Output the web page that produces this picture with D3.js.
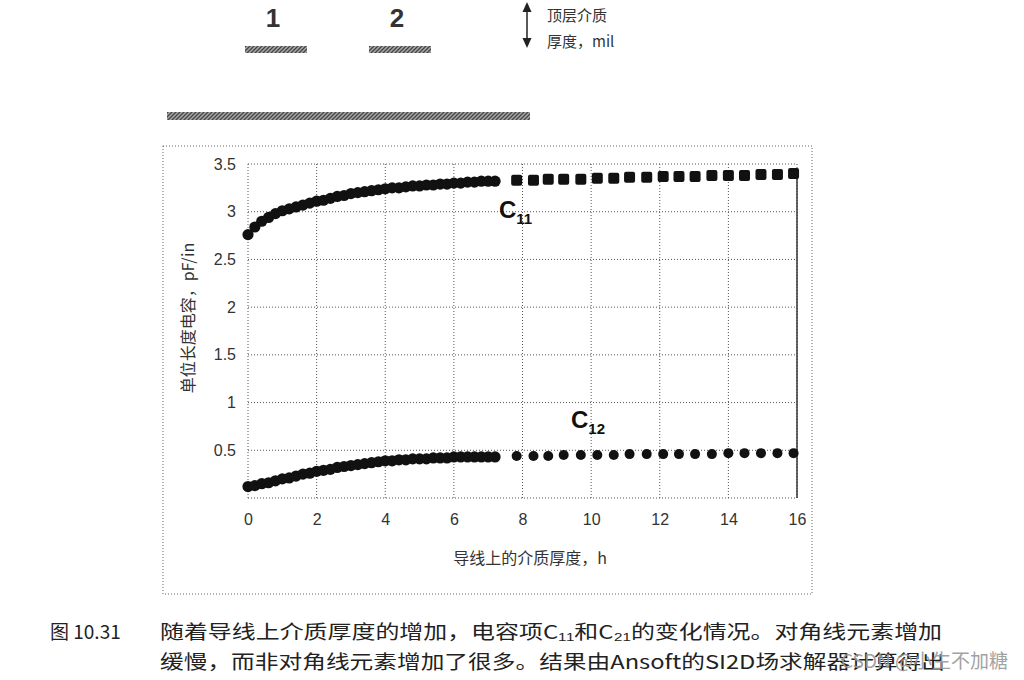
<!DOCTYPE html>
<html><head><meta charset="utf-8">
<script src="https://cdn.jsdelivr.net/npm/d3@7/dist/d3.min.js"></script>
<style>body{margin:0;background:#fff}svg{display:block}</style>
</head><body>
<svg id="c" width="1024" height="680"></svg>
<script>
// ---- data ----
const xTicks = [0, 2, 4, 6, 8, 10, 12, 14, 16];
const yTicks = [0.5, 1, 1.5, 2, 2.5, 3, 3.5];
const yGrid = [0, 0.5, 1, 1.5, 2, 2.5, 3, 3.5];
const denseX = [0,0.2,0.4,0.6,0.8,1.0,1.2,1.4,1.6,1.8,2.0,2.2,2.4,2.6,2.8,3.0,3.2,3.4,3.6,3.8,4.0,4.2,4.4,4.6,4.8,5.0,5.2,5.4,5.6,5.8,6.0,6.2,6.4,6.6,6.8,7.0,7.2];
const c11Dense = [2.76,2.84,2.90,2.94,2.98,3.01,3.03,3.05,3.07,3.09,3.11,3.12,3.14,3.16,3.17,3.19,3.20,3.21,3.22,3.23,3.24,3.25,3.25,3.26,3.27,3.27,3.28,3.28,3.29,3.29,3.30,3.30,3.31,3.31,3.32,3.32,3.32];
const c12Dense = [0.12,0.13,0.15,0.16,0.18,0.20,0.21,0.23,0.25,0.26,0.28,0.29,0.30,0.32,0.33,0.34,0.35,0.36,0.37,0.38,0.39,0.39,0.40,0.40,0.41,0.41,0.41,0.42,0.42,0.42,0.43,0.43,0.43,0.43,0.43,0.43,0.43];
const sparseX = [7.83,8.32,8.75,9.2,9.7,10.18,10.66,11.12,11.62,12.1,12.56,13.03,13.52,14.0,14.47,14.95,15.43,15.9];
const c11Sparse = [3.33,3.33,3.34,3.34,3.34,3.35,3.35,3.36,3.36,3.37,3.37,3.37,3.38,3.38,3.38,3.39,3.39,3.40];
const c12Sparse = [0.44,0.44,0.44,0.45,0.45,0.45,0.45,0.46,0.46,0.46,0.46,0.46,0.46,0.47,0.47,0.47,0.47,0.47];
const legendLabels = ["1", "2"];
const xTitle = "导线上的介质厚度，h";
const yTitle = "单位长度电容，pF/in";
const caption1 = "随着导线上介质厚度的增加，电容项C₁₁和C₂₁的变化情况。对角线元素增加";
const caption2 = "缓慢，而非对角线元素增加了很多。结果由Ansoft的SI2D场求解器计算得出";

// ---- drawing ----
const svg = d3.select("#c");
const sans = "'Liberation Sans', Arial, sans-serif";
const cjk = "'Noto Sans CJK SC', sans-serif";
const x = d3.scaleLinear().domain([0, 16]).range([248, 797]);
const y = d3.scaleLinear().domain([0, 3.5]).range([498, 164]);

const defs = svg.append("defs");
const pat = defs.append("pattern").attr("id", "hatch").attr("patternUnits", "userSpaceOnUse")
  .attr("width", 4).attr("height", 4);
pat.append("rect").attr("width", 4).attr("height", 4).attr("fill", "#a8a8a8");
pat.append("path").attr("d", "M0,4 L4,0 M-1,1 L1,-1 M3,5 L5,3").attr("stroke", "#444").attr("stroke-width", 1.3);

// outer dotted frame
svg.append("rect").attr("x", 163).attr("y", 146).attr("width", 649).attr("height", 448)
  .attr("fill", "none").attr("stroke", "#666").attr("stroke-width", 1).attr("stroke-dasharray", "1,2");

// grid
const grid = svg.append("g").attr("stroke", "#555").attr("stroke-width", 1).attr("stroke-dasharray", "1,2");
grid.selectAll("line.v").data(xTicks).join("line")
  .attr("x1", d => x(d)).attr("x2", d => x(d)).attr("y1", y(3.5)).attr("y2", y(0));
grid.selectAll("line.h").data(yGrid).join("line")
  .attr("x1", x(0)).attr("x2", x(16)).attr("y1", d => y(d)).attr("y2", d => y(d));
svg.append("line").attr("x1", x(16)).attr("x2", x(16)).attr("y1", y(3.4)).attr("y2", y(0))
  .attr("stroke", "#333").attr("stroke-width", 1.5);

// axes (labels only)
const xAxis = d3.axisBottom(x).tickValues(xTicks).tickSize(0).tickPadding(0).tickFormat(d3.format("d"));
const gx = svg.append("g").attr("transform", `translate(0,${y(0) + 16})`).call(xAxis);
gx.select(".domain").remove();
gx.selectAll("text").attr("font-family", sans).attr("font-size", 16).attr("fill", "#333");
const yAxis = d3.axisLeft(y).tickValues(yTicks).tickSize(0).tickPadding(0).tickFormat(d => d);
const gy = svg.append("g").attr("transform", `translate(236,0)`).call(yAxis);
gy.select(".domain").remove();
gy.selectAll("text").attr("font-family", sans).attr("font-size", 16).attr("fill", "#333");

// axis titles
svg.append("text").attr("x", 530).attr("y", 564).attr("text-anchor", "middle")
  .attr("font-family", cjk).attr("font-size", 16).attr("fill", "#333").text(xTitle);
svg.append("text").attr("transform", "translate(194,318) rotate(-90)").attr("text-anchor", "middle")
  .attr("font-family", cjk).attr("font-size", 16).attr("fill", "#333").text(yTitle);

// data
const pts = svg.append("g").attr("fill", "#111");
const dense = [c11Dense, c12Dense];
dense.forEach(series => {
  pts.append("g").selectAll("circle").data(denseX).join("circle")
    .attr("cx", (d) => x(d)).attr("cy", (d, i) => y(series[i])).attr("r", 5.6);
});
pts.append("g").selectAll("rect").data(sparseX).join("rect")
  .attr("x", d => x(d) - 5.5).attr("y", (d, i) => y(c11Sparse[i]) - 5.5)
  .attr("width", 11).attr("height", 11).attr("rx", 2);
pts.append("g").selectAll("circle").data(sparseX).join("circle")
  .attr("cx", d => x(d)).attr("cy", (d, i) => y(c12Sparse[i])).attr("r", 5);

// series labels
function clabel(px, py, sub) {
  const t = svg.append("text").attr("x", px).attr("y", py).attr("font-family", sans)
    .attr("font-weight", "bold").attr("fill", "#111");
  t.append("tspan").attr("font-size", 24).text("C");
  t.append("tspan").attr("font-size", 15).attr("dy", 6).text(sub);
}
clabel(499, 218, "11");
clabel(571, 428, "12");

// top legend/sketch
const lg = svg.append("g");
const legX = [273, 397];
lg.selectAll("text.n").data(legendLabels).join("text")
  .attr("x", (d, i) => legX[i]).attr("y", 27).attr("text-anchor", "middle")
  .attr("font-family", sans).attr("font-weight", "bold").attr("font-size", 26).attr("fill", "#333").text(d => d);
lg.selectAll("rect.b").data(legendLabels).join("rect")
  .attr("x", (d, i) => legX[i] - 28).attr("y", 46).attr("width", 62).attr("height", 7)
  .attr("fill", "url(#hatch)");
lg.append("rect").attr("x", 167).attr("y", 112).attr("width", 363).attr("height", 8).attr("fill", "url(#hatch)");
lg.append("line").attr("x1", 527).attr("x2", 527).attr("y1", 8).attr("y2", 42).attr("stroke", "#222").attr("stroke-width", 1.5);
lg.append("path").attr("d", "M527,2 L522.5,12 L531.5,12 Z").attr("fill", "#222");
lg.append("path").attr("d", "M527,48 L522.5,38 L531.5,38 Z").attr("fill", "#222");
lg.append("text").attr("x", 547).attr("y", 21).attr("font-family", cjk).attr("font-size", 15).attr("fill", "#333").text("顶层介质");
lg.append("text").attr("x", 547).attr("y", 47).attr("font-family", cjk).attr("font-size", 15).attr("fill", "#333").text("厚度，mil");

// caption
svg.append("text").attr("x", 50).attr("y", 639).attr("font-family", cjk).attr("font-size", 19).attr("fill", "#222").text("图 10.31");
svg.append("text").attr("x", 160).attr("y", 639).attr("font-family", cjk).attr("font-size", 19).attr("fill", "#222")
  .attr("textLength", 782).attr("lengthAdjust", "spacingAndGlyphs").text(caption1);
svg.append("text").attr("x", 160).attr("y", 669).attr("font-family", cjk).attr("font-size", 19).attr("fill", "#222")
  .attr("textLength", 785).attr("lengthAdjust", "spacingAndGlyphs").text(caption2);
svg.append("text").attr("x", 1008).attr("y", 668).attr("text-anchor", "end").attr("font-family", cjk)
  .attr("font-size", 19).attr("fill", "#999").attr("opacity", 0.9).text("CSDN @小生不加糖");
</script>
</body></html>
